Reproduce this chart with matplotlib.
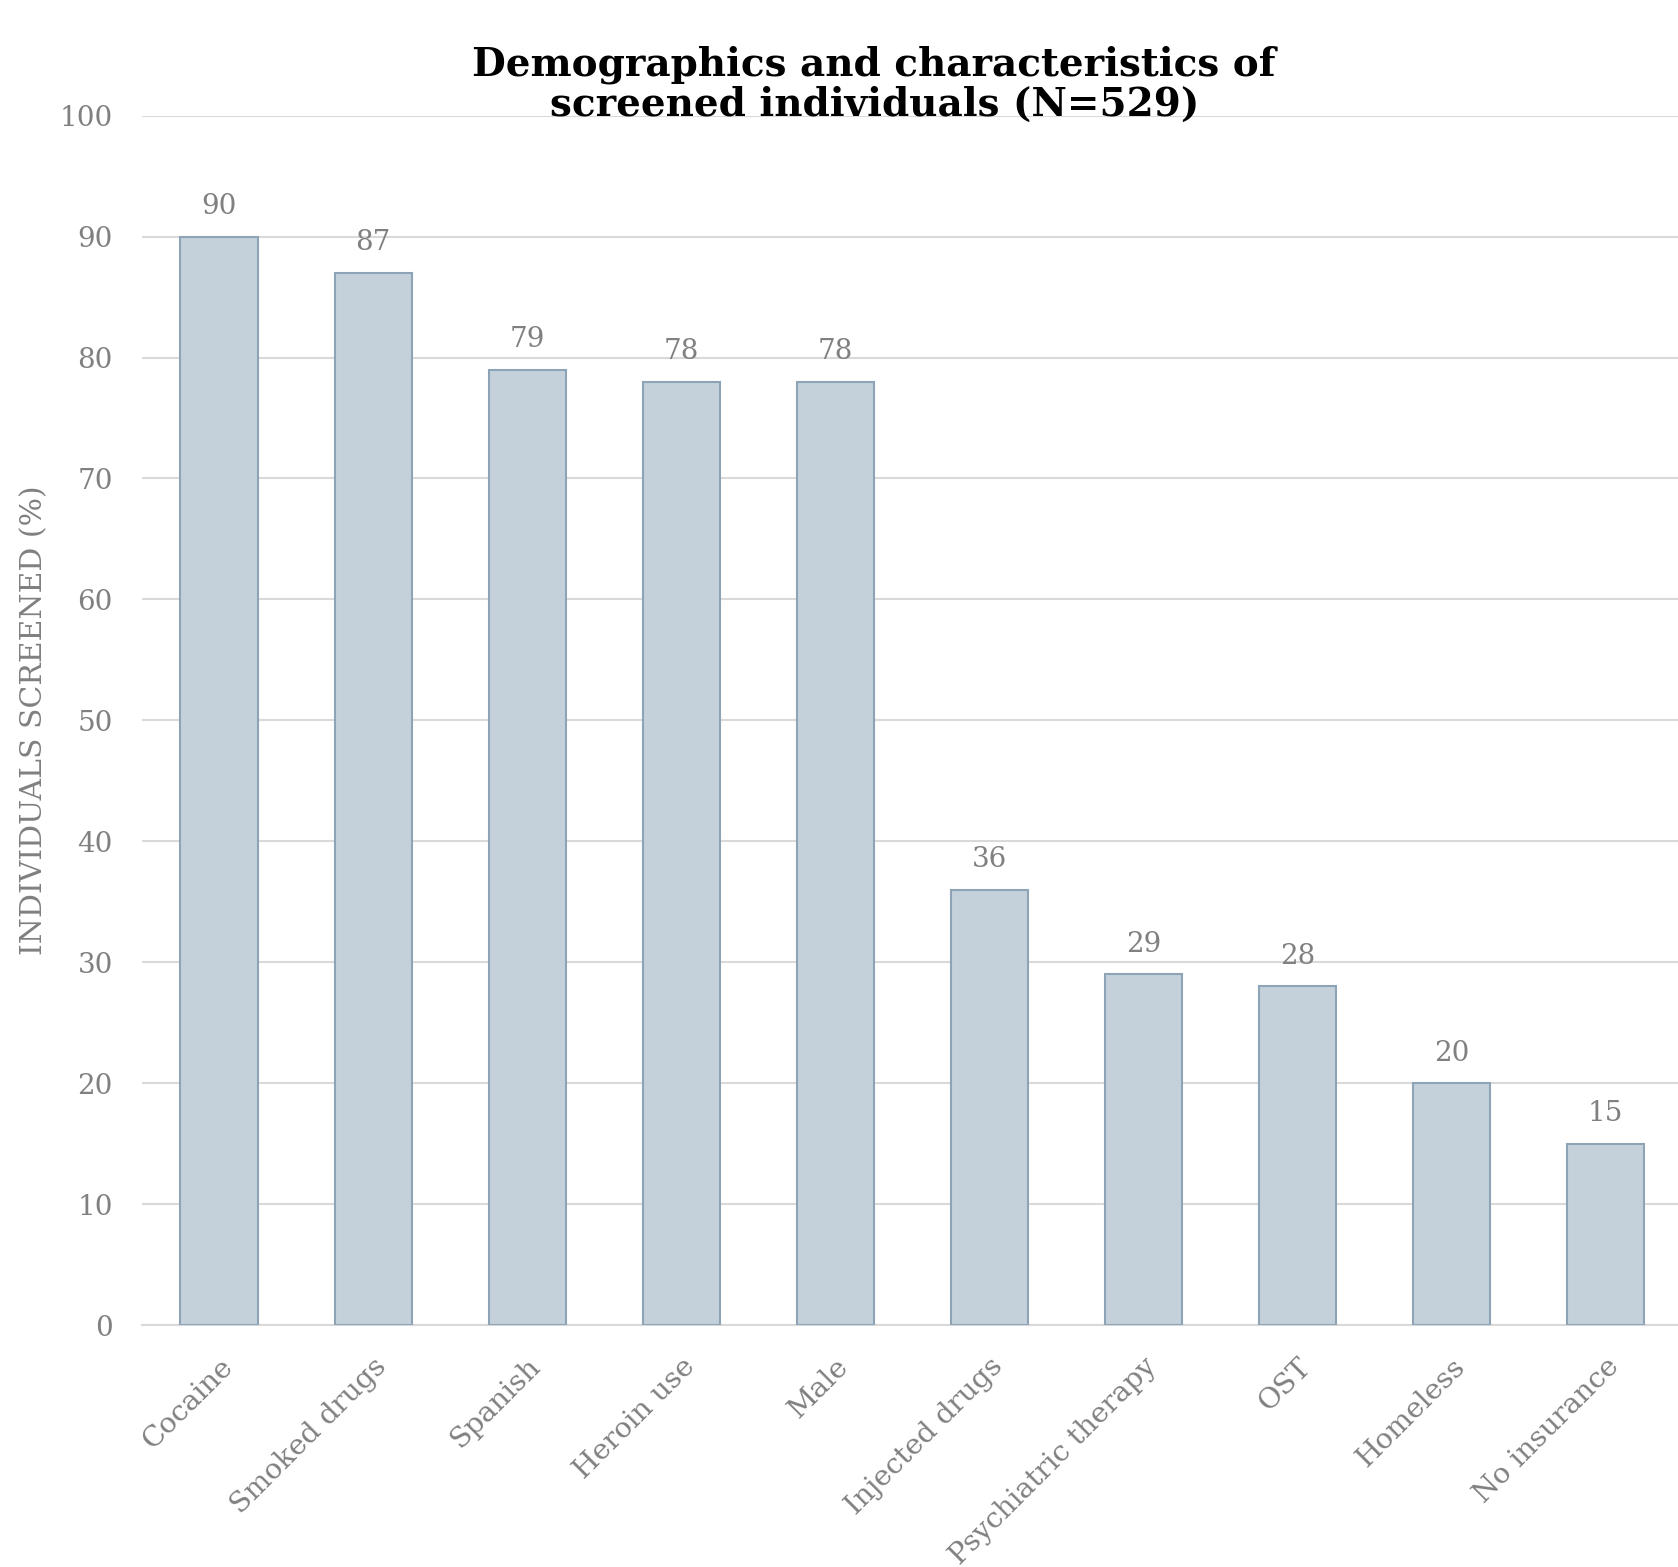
import matplotlib
matplotlib.use("Agg")
import matplotlib.pyplot as plt

# Data
categories = ["Cocaine", "Smoked drugs", "Spanish", "Heroin use", "Male",
              "Injected drugs", "Psychiatric therapy", "OST", "Homeless", "No insurance"]
values = [90, 87, 79, 78, 78, 36, 29, 28, 20, 15]
yticks = list(range(0, 101, 10))

plt.rcParams['font.family'] = ['DejaVu Serif']
GREY = '#808080'

fig = plt.figure(figsize=(16.78, 15.67), dpi=100)
ax = fig.add_axes([0.0846, 0.1544, 0.9154, 0.7718])

x = list(range(len(categories)))
ax.bar(x, values, width=0.5, color='#c4d1db', edgecolor='#8ea3b5', linewidth=1.5, zorder=3)

for xi, v in zip(x, values):
    ax.annotate(str(v), (xi, v), xytext=(0, 12), textcoords='offset points',
                ha='center', va='bottom', fontsize=20, color=GREY)

ax.set_xlim(-0.5, 9.47)
ax.set_ylim(0, 100)
ax.set_yticks(yticks)
ax.set_xticks(x)
ax.set_xticklabels(categories, rotation=45, ha='right', rotation_mode='anchor',
                   fontsize=20.5, color=GREY)
ax.tick_params(axis='x', length=0, pad=20)
ax.tick_params(axis='y', length=0, pad=21, labelsize=20, labelcolor=GREY)
ax.grid(axis='y', color='#d9d9d9', linewidth=1.5, zorder=0)
for s in ['top', 'right', 'left']:
    ax.spines[s].set_visible(False)
ax.spines['bottom'].set_color('#d9d9d9')
ax.spines['bottom'].set_linewidth(1.5)

ax.set_ylabel("INDIVIDUALS SCREENED (%)", fontsize=21.5, color=GREY, labelpad=8)

fig.text(0.521, 0.946, "Demographics and characteristics of\nscreened individuals (N=529)",
         ha='center', va='center', fontsize=28, fontweight='bold', color='black',
         linespacing=1.05, zorder=10)

fig.savefig("out.png", dpi=100, facecolor='white')
